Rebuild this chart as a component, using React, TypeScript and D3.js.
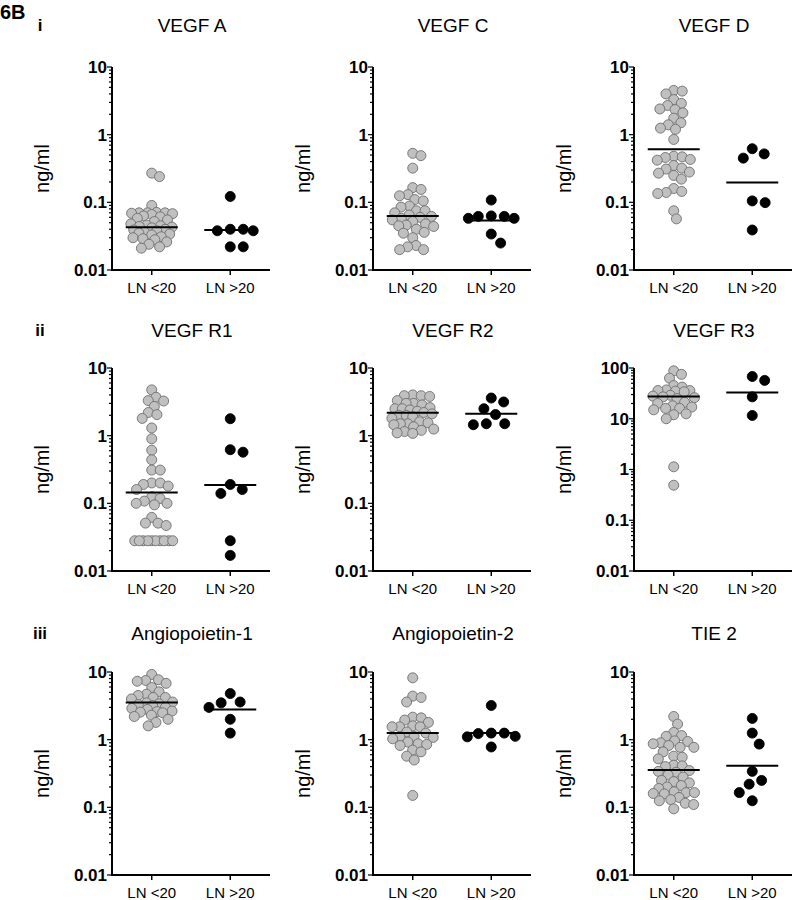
import * as d3 from 'd3';

// ---- data (ng/ml) ----
const groups = ['LN <20', 'LN >20'];
const panelTitles = ['VEGF A', 'VEGF C', 'VEGF D', 'VEGF R1', 'VEGF R2', 'VEGF R3', 'Angiopoietin-1', 'Angiopoietin-2', 'TIE 2'];
const rowLabels = ['i', 'ii', 'iii'];
const yMaxes = [10, 10, 10, 10, 10, 100, 10, 10, 10];

const vegfALow = [0.27, 0.24, 0.09, 0.071, 0.07, 0.07, 0.07, 0.069, 0.068, 0.066, 0.063, 0.061, 0.058, 0.055, 0.052, 0.048, 0.046, 0.045, 0.044, 0.043, 0.042, 0.04, 0.039, 0.038, 0.036, 0.035, 0.034, 0.033, 0.031, 0.03, 0.029, 0.028, 0.026, 0.024, 0.022, 0.021];
const vegfAHigh = [0.122, 0.04, 0.04, 0.038, 0.038, 0.022, 0.022];
const vegfCLow = [0.53, 0.49, 0.32, 0.165, 0.155, 0.13, 0.125, 0.11, 0.105, 0.088, 0.085, 0.075, 0.075, 0.07, 0.065, 0.062, 0.06, 0.058, 0.055, 0.052, 0.048, 0.046, 0.045, 0.044, 0.04, 0.036, 0.035, 0.03, 0.023, 0.022, 0.02, 0.02];
const vegfCHigh = [0.108, 0.063, 0.062, 0.062, 0.058, 0.058, 0.034, 0.025];
const vegfDLow = [4.5, 4.4, 4.0, 3.3, 2.9, 2.7, 2.4, 2.35, 2.1, 1.75, 1.5, 1.4, 1.25, 1.2, 0.85, 0.48, 0.47, 0.46, 0.43, 0.42, 0.35, 0.32, 0.31, 0.28, 0.27, 0.25, 0.22, 0.16, 0.145, 0.14, 0.135, 0.075, 0.057];
const vegfDHigh = [0.62, 0.52, 0.45, 0.105, 0.099, 0.039];
const vegfR1Low = [4.75, 3.7, 3.3, 3.25, 2.7, 2.2, 2.05, 1.8, 1.3, 0.9, 0.61, 0.44, 0.31, 0.31, 0.2, 0.2, 0.19, 0.18, 0.16, 0.125, 0.118, 0.108, 0.1, 0.1, 0.095, 0.062, 0.051, 0.051, 0.047, 0.028, 0.028, 0.028, 0.028, 0.028, 0.028, 0.028, 0.028, 0.028, 0.028];
const vegfR1High = [1.78, 0.62, 0.57, 0.19, 0.16, 0.14, 0.028, 0.017];
const vegfR2Low = [4.0, 3.9, 3.9, 3.8, 3.3, 3.0, 3.0, 2.85, 2.6, 2.5, 2.5, 2.4, 2.3, 2.2, 2.1, 2.0, 2.0, 1.9, 1.8, 1.6, 1.55, 1.5, 1.5, 1.45, 1.35, 1.25, 1.2, 1.15, 1.1, 1.08];
const vegfR2High = [3.6, 3.15, 2.5, 2.05, 1.5, 1.5, 1.45];
const vegfR3Low = [88, 75, 63, 45, 42, 37, 36, 36, 35, 34, 29, 28, 27, 26, 25, 21, 20, 18, 17, 16, 16, 15, 12.5, 12, 10, 1.13, 0.49];
const vegfR3High = [68, 57, 27, 11.6];
const ang1Low = [9.2, 7.7, 7.5, 7.3, 6.8, 5.9, 5.1, 4.7, 4.5, 4.2, 4.2, 4.0, 3.6, 3.5, 3.4, 3.3, 3.2, 3.0, 2.9, 2.8, 2.65, 2.6, 2.55, 2.5, 2.3, 2.2, 2.0, 1.8, 1.6];
const ang1High = [4.8, 3.6, 3.5, 3.0, 2.0, 1.25];
const ang2Low = [8.2, 4.4, 4.2, 3.6, 2.15, 2.1, 1.95, 1.8, 1.6, 1.55, 1.55, 1.55, 1.3, 1.25, 1.12, 1.1, 1.08, 1.03, 0.92, 0.87, 0.85, 0.82, 0.7, 0.66, 0.57, 0.5, 0.15];
const ang2High = [3.2, 1.25, 1.25, 1.23, 1.12, 1.1, 0.78];
const tie2Low = [2.2, 1.7, 1.28, 1.15, 1.12, 0.96, 0.94, 0.9, 0.87, 0.82, 0.77, 0.77, 0.66, 0.57, 0.55, 0.52, 0.42, 0.41, 0.4, 0.35, 0.34, 0.33, 0.3, 0.28, 0.25, 0.24, 0.23, 0.21, 0.2, 0.19, 0.17, 0.165, 0.165, 0.16, 0.158, 0.14, 0.13, 0.125, 0.115, 0.11, 0.095];
const tie2High = [2.06, 1.25, 0.86, 0.34, 0.25, 0.22, 0.165, 0.125];

// horizontal lines (geometric means) as drawn in the figure
const lineLow = [0.043, 0.063, 0.61, 0.144, 2.18, 27.4, 3.55, 1.25, 0.356];
const lineHigh = [0.039, 0.054, 0.197, 0.187, 2.1, 33, 2.8, 1.25, 0.41];

const lowSets = [vegfALow, vegfCLow, vegfDLow, vegfR1Low, vegfR2Low, vegfR3Low, ang1Low, ang2Low, tie2Low];
const highSets = [vegfAHigh, vegfCHigh, vegfDHigh, vegfR1High, vegfR2High, vegfR3High, ang1High, ang2High, tie2High];

// ---- layout ----
const colX = [112, 373, 634];
const rowTop = [67, 368, 672];
const titleY = [25, 330, 633];
const plotH = 203;
const axisW = 158;
const R = 5;
const FONT = 'Arial, "Liberation Sans", Helvetica, sans-serif';

function bestX(y: number, placed: any[], d: number) {
  const cands = [0];
  for (const q of placed) {
    const dy = Math.abs(q.y - y);
    if (dy < d) {
      const dx = Math.sqrt(d * d - dy * dy);
      cands.push(q.x + dx, q.x - dx);
    }
  }
  cands.sort((a, b) => Math.abs(a) - Math.abs(b));
  for (const c of cands) {
    if (placed.every(q => (q.x - c) ** 2 + (q.y - y) ** 2 >= d * d - 0.01)) return c;
  }
  return 0;
}

// simple beeswarm: place points around the column centre
function swarm(values: number[], y: any, cx: number, minDist: number, maxHalf: number) {
  const pts = values.map(v => ({ v, y: y(v) })).sort((a, b) => a.y - b.y);
  const placed: any[] = [];
  for (const p of pts) {
    let d = minDist;
    let x = 0;
    for (let k = 0; k < 15; k++) {
      x = bestX(p.y, placed, d);
      if (Math.abs(x) <= maxHalf) break;
      d *= 0.88;
    }
    placed.push({ x, y: p.y, v: p.v });
  }
  return placed.map(p => ({ ...p, x: cx + p.x }));
}

const Panel = ({ idx }: { idx: number }) => {
  const col = idx % 3;
  const row = Math.floor(idx / 3);
  const x0 = colX[col];
  const top = rowTop[row];
  const bottom = top + plotH;
  const yMax = yMaxes[idx];

  const y = d3.scaleLog().domain([0.01, yMax]).range([bottom, top]);
  const x = d3.scalePoint().domain(groups).range([x0, x0 + axisW]).padding(0.506);

  const ticks = y.ticks();
  const majors = ticks.filter(t => Math.abs(Math.log10(t) - Math.round(Math.log10(t))) < 1e-9);
  const labelFmt = (t: number) => (t >= 1 ? String(Math.round(t)) : String(+t.toFixed(2)));

  const sets = [lowSets[idx], highSets[idx]];
  const lines = [lineLow[idx], lineHigh[idx]];

  return (
    <g>
      <text x={x0 + 80} y={titleY[row] + 7} textAnchor="middle" fontFamily={FONT} fontSize={19}>
        {panelTitles[idx]}
      </text>
      <text
        transform={`translate(${x0 - 63},${(top + bottom) / 2}) rotate(-90)`}
        textAnchor="middle"
        fontFamily={FONT}
        fontSize={20}
      >
        ng/ml
      </text>
      {/* y axis */}
      {ticks.map((t, i) => (
        <line key={i} x1={x0} x2={x0 - (majors.includes(t) ? 5 : 3)} y1={y(t)} y2={y(t)} stroke="#000" strokeWidth={1.2} />
      ))}
      {majors.map((t, i) => (
        <text key={i} x={x0 - 5} y={y(t)} dy="0.35em" textAnchor="end" fontFamily={FONT} fontSize={17} fontWeight="bold">
          {labelFmt(t)}
        </text>
      ))}
      <line x1={x0} x2={x0} y1={top} y2={bottom + 1} stroke="#000" strokeWidth={2} />
      {/* x axis */}
      <line x1={x0 - 1} x2={x0 + axisW} y1={bottom} y2={bottom} stroke="#000" strokeWidth={2} />
      {groups.map(g => (
        <g key={g}>
          <line x1={x(g)} x2={x(g)} y1={bottom} y2={bottom + 5} stroke="#000" strokeWidth={1.5} />
          <text x={x(g)} y={bottom + 23} textAnchor="middle" fontFamily={FONT} fontSize={15}>
            {g}
          </text>
        </g>
      ))}
      {/* points */}
      {sets.map((vals, gi) => {
        const cx = x(groups[gi]) as number;
        const pts = vals.length > 15 ? swarm(vals, y, cx, 8.5, 21) : swarm(vals, y, cx, 13, 24);
        return (
          <g key={gi}>
            {pts.map((p, i) => (
              <circle
                key={i}
                cx={p.x}
                cy={p.y}
                r={R}
                fill={gi === 0 ? '#c0c0c0' : '#000'}
                stroke={gi === 0 ? '#6e6e6e' : '#000'}
                strokeWidth={0.9}
              />
            ))}
            <line x1={cx - 26} x2={cx + 26} y1={y(lines[gi])} y2={y(lines[gi])} stroke="#000" strokeWidth={2} />
          </g>
        );
      })}
    </g>
  );
};

export default function App() {
  return (
    <svg width={794} height={900} style={{ position: 'absolute', left: 0, top: 0, background: '#fff' }}>
      <rect width={794} height={900} fill="#fff" />
      <text x={0} y={19} fontFamily={FONT} fontSize={20} fontWeight="bold">6B</text>
      {rowLabels.map((l, i) => (
        <text key={l} x={40} y={titleY[i] + 6} textAnchor="middle" fontFamily={FONT} fontSize={17} fontWeight="bold">
          {l}
        </text>
      ))}
      {panelTitles.map((_, i) => (
        <Panel key={i} idx={i} />
      ))}
    </svg>
  );
}
